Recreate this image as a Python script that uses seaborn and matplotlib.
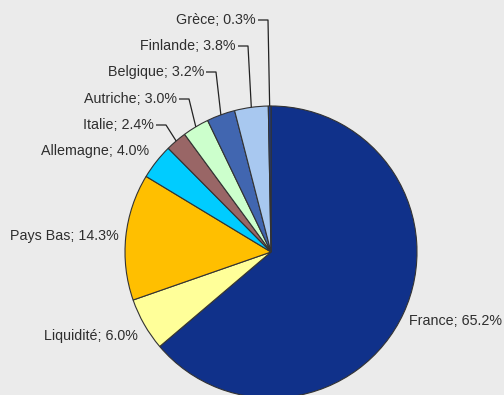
import numpy as np
import matplotlib
matplotlib.use("Agg")
import matplotlib.pyplot as plt
import seaborn as sns

# Portfolio breakdown by country
categories = ["France", "Liquidité", "Pays Bas", "Allemagne", "Italie",
              "Autriche", "Belgique", "Finlande", "Grèce"]
shares = [65.2, 6.0, 14.3, 4.0, 2.4, 3.0, 3.2, 3.8, 0.3]
colors = ["#10318a", "#ffff99", "#ffbf00", "#00ccff", "#996666",
          "#ccffcc", "#4166b0", "#a8c8f0", "#1a3a8e"]

sns.set_theme(style="white")
plt.rcParams["font.family"] = ["Liberation Sans", "DejaVu Sans"]

BG = "#ebebeb"
W, H = 504, 395
fig = plt.figure(figsize=(W / 100, H / 100), dpi=100, facecolor=BG)
ax = fig.add_axes([0, 0, 1, 1])
ax.set_facecolor(BG)
ax.set_xlim(0, W)
ax.set_ylim(H, 0)

cx, cy, r = 271, 252, 146

# y axis is inverted, so counterclockwise in data space runs clockwise on screen
wedges, _ = ax.pie(shares, colors=colors, startangle=-90, counterclock=True,
                   center=(cx, cy), radius=r, frame=True,
                   wedgeprops=dict(edgecolor="#333333", linewidth=0.8))
ax.set_xlim(0, W)
ax.set_ylim(H, 0)
ax.axis("off")

# Label anchors: (text x, text y, horizontal alignment, draw leader line)
label_layout = {
    "France":    (409, 321, "left", False),
    "Liquidité": (138, 336, "right", False),
    "Pays Bas":  (119, 236, "right", False),
    "Allemagne": (149, 151, "right", False),
    "Italie":    (154, 125, "right", True),
    "Autriche":  (177, 99, "right", True),
    "Belgique":  (204, 72, "right", True),
    "Finlande":  (236, 46, "right", True),
    "Grèce":     (256, 20, "right", True),
}

for w, name, val in zip(wedges, categories, shares):
    tx, ty, ha, leader = label_layout[name]
    ax.text(tx, ty, f"{name}; {val:.1f}%", ha=ha, va="center",
            fontsize=10.3, color="#2e2e2e")
    if leader:
        mid = np.deg2rad((w.theta1 + w.theta2) / 2)
        ex = cx + r * np.cos(mid)
        ey = cy + r * np.sin(mid)
        ax.plot([tx + 2, tx + 12, ex], [ty, ty, ey], color="#222222",
                linewidth=0.9, solid_capstyle="butt")

fig.savefig("out.png", dpi=100, facecolor=BG)
